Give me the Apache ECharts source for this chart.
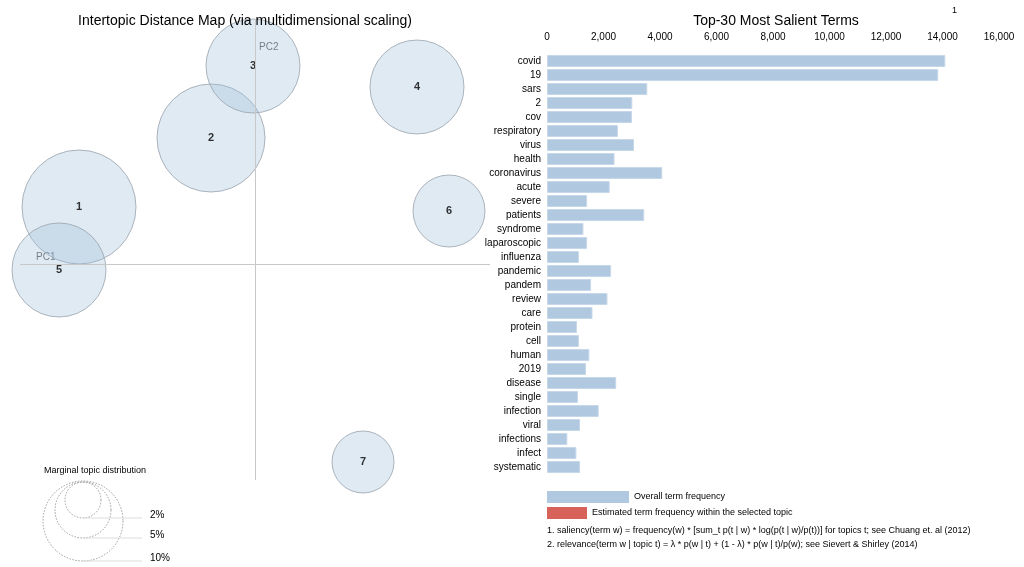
<!DOCTYPE html>
<html>
<head>
<meta charset="utf-8">
<script src="https://cdn.jsdelivr.net/npm/echarts@6/dist/echarts.min.js"></script>
<style>
  html, body { margin: 0; padding: 0; background: #fff; }
  #main { width: 1024px; height: 567px; }
</style>
</head>
<body>
<div id="main"></div>
<script>
    // topics (intertopic map, in px relative to the PC axes crossing)
    var topicNames = ['1', '2', '3', '4', '5', '6', '7'];
    var topicX = [-176, -44, -2, 162, -196, 194, 108];
    var topicY = [57, 126, 198, 177, -6, 53, -198];
    var topicR = [57, 54, 47, 47, 47, 36, 31];

    // top-30 salient terms
    var terms = ['covid', '19', 'sars', '2', 'cov', 'respiratory', 'virus', 'health', 'coronavirus', 'acute',
        'severe', 'patients', 'syndrome', 'laparoscopic', 'influenza', 'pandemic', 'pandem', 'review', 'care', 'protein',
        'cell', 'human', '2019', 'disease', 'single', 'infection', 'viral', 'infections', 'infect', 'systematic'];
    var termFreq = [14100, 13850, 3550, 3020, 3010, 2510, 3080, 2390, 4080, 2220,
        1420, 3440, 1290, 1420, 1130, 2270, 1560, 2140, 1610, 1060,
        1130, 1500, 1380, 2450, 1100, 1830, 1170, 720, 1040, 1170];
    var xTicks = [0, 2000, 4000, 6000, 8000, 10000, 12000, 14000, 16000];

    var font = 'Liberation Sans, Arial, sans-serif';
    var myChart = echarts.init(document.getElementById('main'));

    var topicData = topicNames.map(function (n, i) {
        return { name: n, value: [topicX[i], topicY[i]], symbolSize: topicR[i] * 2 };
    });

    var option = {
        animation: false,
        textStyle: { fontFamily: font },
        title: [
            { text: 'Intertopic Distance Map (via multidimensional scaling)', left: 240, top: 9, textAlign: 'center',
              textStyle: { fontSize: 14, fontWeight: 'normal', color: '#000', fontFamily: font } },
            { text: 'Top-30 Most Salient Terms', left: 771, top: 9, textAlign: 'center',
              textStyle: { fontSize: 14, fontWeight: 'normal', color: '#000', fontFamily: font } }
        ],
        grid: [
            { left: 0, top: 0, width: 500, height: 567 },
            { left: 547, right: 25, top: 54, bottom: 93 }
        ],
        xAxis: [
            { gridIndex: 0, type: 'value', min: -255, max: 245, show: false },
            { gridIndex: 1, type: 'value', position: 'top', min: 0, max: 16000, interval: 2000,
              axisLine: { show: false }, axisTick: { show: false }, splitLine: { show: false },
              axisLabel: { color: '#000', fontSize: 10, margin: 12,
                  formatter: function (v) { return v.toLocaleString('en-US'); } } }
        ],
        yAxis: [
            { gridIndex: 0, type: 'value', min: -303, max: 264, show: false },
            { gridIndex: 1, type: 'category', data: terms, inverse: true,
              axisLine: { show: false }, axisTick: { show: false },
              axisLabel: { color: '#000', fontSize: 10, margin: 6 } }
        ],
        series: [
            {
                type: 'scatter', xAxisIndex: 0, yAxisIndex: 0, data: topicData,
                itemStyle: { color: 'rgba(154,186,216,0.38)', borderColor: '#9aa3ad', borderWidth: 1 },
                label: { show: true, formatter: '{b}', color: '#000', fontSize: 11, fontWeight: 'bold' },
                markLine: {
                    silent: true, symbol: 'none',
                    lineStyle: { color: '#c8c8c8', width: 1, type: 'solid' },
                    label: { show: false },
                    data: [
                        [{ coord: [-235, 0] }, { coord: [235, 0] }],
                        [{ coord: [0, 244] }, { coord: [0, -216] }]
                    ]
                }
            },
            {
                type: 'bar', xAxisIndex: 1, yAxisIndex: 1, data: termFreq, barCategoryGap: '14%',
                itemStyle: { color: '#b0c8e0', borderColor: '#c8d8ea', borderWidth: 1 }
            }
        ],
        graphic: [
            { type: 'text', left: 36, top: 252, style: { text: 'PC1', fill: '#666', fontSize: 10, fontFamily: font } },
            { type: 'text', left: 259, top: 42, style: { text: 'PC2', fill: '#666', fontSize: 10, fontFamily: font } },
            { type: 'text', left: 44, top: 466, style: { text: 'Marginal topic distribution', fill: '#000', fontSize: 9, fontFamily: font } },
            { type: 'circle', shape: { cx: 83, cy: 500, r: 18 }, style: { fill: 'none', stroke: '#999', lineDash: [1.5, 1.5] } },
            { type: 'circle', shape: { cx: 83, cy: 510, r: 28 }, style: { fill: 'none', stroke: '#999', lineDash: [1.5, 1.5] } },
            { type: 'circle', shape: { cx: 83, cy: 521, r: 40 }, style: { fill: 'none', stroke: '#999', lineDash: [1.5, 1.5] } },
            { type: 'line', shape: { x1: 83, y1: 518, x2: 142, y2: 518 }, style: { stroke: '#ddd' } },
            { type: 'line', shape: { x1: 83, y1: 538, x2: 142, y2: 538 }, style: { stroke: '#ddd' } },
            { type: 'line', shape: { x1: 83, y1: 561, x2: 142, y2: 561 }, style: { stroke: '#ddd' } },
            { type: 'text', left: 150, top: 510, style: { text: '2%', fill: '#000', fontSize: 10, fontFamily: font } },
            { type: 'text', left: 150, top: 530, style: { text: '5%', fill: '#000', fontSize: 10, fontFamily: font } },
            { type: 'text', left: 150, top: 553, style: { text: '10%', fill: '#000', fontSize: 10, fontFamily: font } },
            { type: 'text', left: 952, top: 6, style: { text: '1', fill: '#000', fontSize: 9, fontFamily: font } },
            { type: 'rect', shape: { x: 547, y: 491, width: 82, height: 12 }, style: { fill: '#b0c8e0' } },
            { type: 'rect', shape: { x: 547, y: 507, width: 40, height: 12 }, style: { fill: '#d6625a' } },
            { type: 'text', left: 634, top: 492, style: { text: 'Overall term frequency', fill: '#000', fontSize: 9, fontFamily: font } },
            { type: 'text', left: 592, top: 508, style: { text: 'Estimated term frequency within the selected topic', fill: '#000', fontSize: 9, fontFamily: font } },
            { type: 'text', left: 547, top: 526, style: { text: '1. saliency(term w) = frequency(w) * [sum_t p(t | w) * log(p(t | w)/p(t))] for topics t; see Chuang et. al (2012)', fill: '#000', fontSize: 9, fontFamily: font } },
            { type: 'text', left: 547, top: 540, style: { text: '2. relevance(term w | topic t) = \u03bb * p(w | t) + (1 - \u03bb) * p(w | t)/p(w); see Sievert & Shirley (2014)', fill: '#000', fontSize: 9, fontFamily: font } }
        ]
    };

    myChart.setOption(option);
</script>
</body>
</html>
